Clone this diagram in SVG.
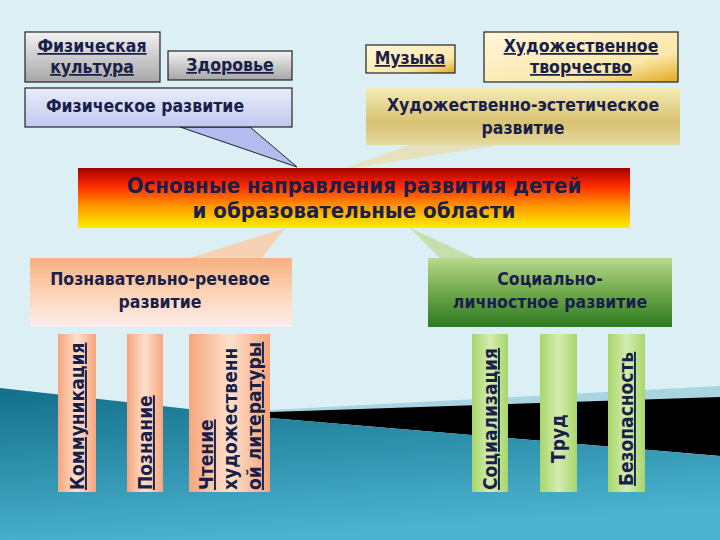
<svg xmlns="http://www.w3.org/2000/svg" width="720" height="540" viewBox="0 0 720 540">
<defs>
<linearGradient id="teal" x1="0" y1="0" x2="0.3" y2="1"><stop offset="0" stop-color="#136f8a"/><stop offset="1" stop-color="#4bb3cf"/></linearGradient>
<linearGradient id="gray" x1="0" y1="0" x2="0" y2="1"><stop offset="0" stop-color="#f2f2f2"/><stop offset="1" stop-color="#a6a6a6"/></linearGradient>
<linearGradient id="lav" x1="0" y1="0" x2="0" y2="1"><stop offset="0" stop-color="#e8edfb"/><stop offset="1" stop-color="#c2c8ee"/></linearGradient>
<linearGradient id="cream" x1="0" y1="0" x2="1" y2="1"><stop offset="0" stop-color="#fff6dc"/><stop offset="0.7" stop-color="#fbe7a8"/><stop offset="1" stop-color="#e0a820"/></linearGradient>
<linearGradient id="gold" x1="0" y1="0" x2="0" y2="1"><stop offset="0" stop-color="#f4ebb4"/><stop offset="0.6" stop-color="#d8c273"/><stop offset="1" stop-color="#e6d9a0"/></linearGradient>
<linearGradient id="fire" x1="0" y1="0" x2="0" y2="1"><stop offset="0" stop-color="#a00000"/><stop offset="0.3" stop-color="#ff2a00"/><stop offset="0.65" stop-color="#ff9c00"/><stop offset="1" stop-color="#ffee00"/></linearGradient>
<linearGradient id="peach" x1="0" y1="0" x2="0" y2="1"><stop offset="0" stop-color="#f9b07e"/><stop offset="0.5" stop-color="#fcd3b6"/><stop offset="1" stop-color="#fdeeee"/></linearGradient>
<linearGradient id="green" x1="0" y1="0" x2="0" y2="1"><stop offset="0" stop-color="#b9d98c"/><stop offset="0.5" stop-color="#6fa84a"/><stop offset="1" stop-color="#2d7a22"/></linearGradient>
<linearGradient id="pbar" x1="0" y1="0" x2="1" y2="0"><stop offset="0" stop-color="#f6a57c"/><stop offset="0.5" stop-color="#fde0cc"/><stop offset="1" stop-color="#f6a57c"/></linearGradient>
<linearGradient id="gbar" x1="0" y1="0" x2="1" y2="0"><stop offset="0" stop-color="#a8d66a"/><stop offset="0.5" stop-color="#d3ecb0"/><stop offset="1" stop-color="#a8d66a"/></linearGradient>
<style>
text{font-family:"DejaVu Sans Condensed","DejaVu Sans",sans-serif;fill:#1a1f4a;text-anchor:middle;font-weight:bold}
.u{text-decoration:underline}
.b{stroke:#222;stroke-width:1.2}
.t{font-size:17.5px}
.v{font-size:19px;text-anchor:start}
</style>
</defs>
<rect width="720" height="540" fill="#dbeff4"/>
<polygon points="270,410 720,386 720,398 270,413" fill="#a9d4e2"/>
<polygon points="270,412 720,397 720,456 270,418" fill="#000"/>
<polygon points="0,388 270,418 720,456 720,540 0,540" fill="url(#teal)"/>
<g id="connectors">
<polygon points="180,127 250,127 297,167" fill="#b4bbee" stroke="#222"/>
<polygon points="410,145 500,145 340,170" fill="#e8dfb0" opacity="0.8"/>
<polygon points="190,258 262,258 285,228" fill="#fcc9a2" opacity="0.8"/>
<polygon points="440,258 475,258 410,228" fill="#c6dba6" opacity="0.9"/>
</g>
<g id="fizkult"><rect x="25" y="32" width="135" height="50" fill="url(#gray)" class="b"/><text x="92" y="52" class="t u">Физическая</text><text x="92" y="73" class="t u">культура</text></g>
<g id="zdorovie"><rect x="168" y="51" width="124" height="29" fill="url(#gray)" class="b"/><text x="230" y="71" class="t u">Здоровье</text></g>
<g id="fizrazv"><rect x="25" y="88" width="267" height="39" fill="url(#lav)" class="b"/><text x="145" y="112" class="t">Физическое развитие</text></g>
<g id="muzyka"><rect x="366" y="45" width="89" height="28" fill="url(#cream)" class="b"/><text x="410" y="64" class="t u">Музыка</text></g>
<g id="hudtv"><rect x="484" y="32" width="194" height="50" fill="url(#cream)" class="b"/><text x="581" y="52" class="t u">Художественное</text><text x="581" y="73" class="t u">творчество</text></g>
<g id="hudest"><rect x="366" y="88" width="314" height="57" fill="url(#gold)"/><text x="523" y="111" class="t">Художественно-эстетическое</text><text x="523" y="134" class="t">развитие</text></g>
<g id="main"><rect x="78" y="168" width="552" height="60" fill="url(#fire)"/><text x="354" y="193" font-size="22" font-weight="normal">Основные направления развития детей</text><text x="354" y="218" font-size="22" font-weight="normal">и образовательные области</text></g>
<g id="pozn"><rect x="30" y="258" width="262" height="69" fill="url(#peach)"/><text x="160" y="285" class="t">Познавательно-речевое</text><text x="160" y="308" class="t">развитие</text></g>
<g id="soc"><rect x="428" y="258" width="244" height="69" fill="url(#green)"/><text x="550" y="285" class="t">Социально-</text><text x="550" y="308" class="t">личностное развитие</text></g>
<g id="komm"><rect x="58" y="334" width="38" height="158" fill="url(#pbar)"/><text transform="translate(84,490) rotate(-90)" class="v u">Коммуникация</text></g>
<g id="poznanie"><rect x="127" y="334" width="36" height="158" fill="url(#pbar)"/><text transform="translate(152,490) rotate(-90)" class="v u">Познание</text></g>
<g id="chtenie"><rect x="189" y="334" width="81" height="158" fill="url(#pbar)"/><text transform="translate(213,490) rotate(-90)" class="v u">Чтение</text><text transform="translate(237,490) rotate(-90)" class="v">художественн</text><text transform="translate(261,490) rotate(-90)" class="v u">ой литературы</text></g>
<g id="socializ"><rect x="472" y="334" width="36" height="158" fill="url(#gbar)"/><text transform="translate(497,490) rotate(-90)" class="v u">Социализация</text></g>
<g id="trud"><rect x="540" y="334" width="37" height="158" fill="url(#gbar)"/><text transform="translate(565,463) rotate(-90)" class="v">Труд</text></g>
<g id="bezop"><rect x="608" y="334" width="37" height="158" fill="url(#gbar)"/><text transform="translate(633,486) rotate(-90)" class="v u">Безопасность</text></g>
</svg>
